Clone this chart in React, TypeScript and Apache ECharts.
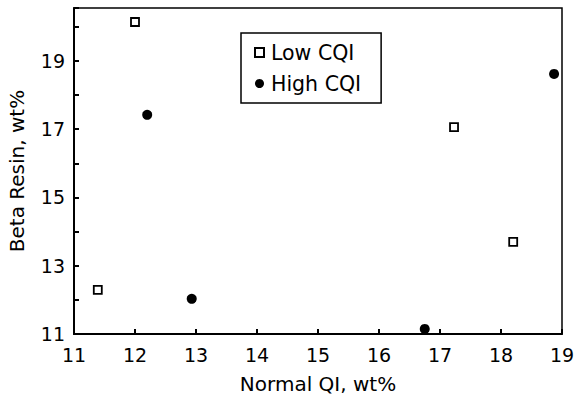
import React, { useEffect, useRef } from "react";
import * as echarts from "echarts";

const lowCqiX = [12.0, 11.39, 17.23, 18.2];
const lowCqiY = [20.14, 12.29, 17.06, 13.7];
const highCqiX = [12.2, 12.93, 16.75, 18.87];
const highCqiY = [17.42, 12.03, 11.15, 18.62];
const seriesNames = ["Low CQI", "High CQI"];
const xTitle = "Normal QI, wt%";
const yTitle = "Beta Resin, wt%";

const FONT = "DejaVu Sans, Liberation Sans, Arial, sans-serif";
const INK = "#000";

export default function App() {
  const ref = useRef<HTMLDivElement>(null);
  useEffect(() => {
    if (!ref.current) return;
    const chart = echarts.init(ref.current, null, { renderer: "svg" });
    const pts = (xs: number[], ys: number[]) => xs.map((x, i) => [x, ys[i]]);
    chart.setOption({
      animation: false,
      backgroundColor: "#fff",
      textStyle: { fontFamily: FONT, color: INK },
      grid: {
        left: 74,
        right: 13,
        top: 8,
        bottom: 66,
        containLabel: false,
        outerBoundsMode: "none",
        show: true,
        borderColor: INK,
        borderWidth: 1.5,
        backgroundColor: "transparent",
      },
      legend: {
        left: 241,
        top: 33,
        orient: "vertical",
        padding: [9, 20, 9, 13],
        itemGap: 10,
        itemWidth: 9,
        itemHeight: 9,
        borderColor: INK,
        borderWidth: 1.5,
        data: [
          { name: seriesNames[0], icon: "rect" },
          { name: seriesNames[1], icon: "circle" },
        ],
        textStyle: { fontSize: 20.5, lineHeight: 20, color: INK, fontFamily: FONT, padding: [0, 0, 0, 2] },
      },
      xAxis: {
        type: "value",
        min: 11,
        max: 19,
        interval: 1,
        name: xTitle,
        nameLocation: "middle",
        nameGap: 40,
        nameTextStyle: { fontSize: 20, color: INK, fontFamily: FONT },
        axisLine: { show: true, lineStyle: { color: INK, width: 2 } },
        axisTick: { show: true, inside: true, length: 5, lineStyle: { color: INK, width: 2 } },
        axisLabel: { fontSize: 19, color: INK, margin: 11, fontFamily: FONT },
        splitLine: { show: false },
      },
      yAxis: {
        type: "value",
        min: 11,
        max: 20.55,
        interval: 1,
        name: yTitle,
        nameLocation: "middle",
        nameGap: 47,
        nameTextStyle: { fontSize: 20, color: INK, fontFamily: FONT },
        axisLine: { show: true, lineStyle: { color: INK, width: 2 } },
        axisTick: { show: true, inside: true, length: 5, lineStyle: { color: INK, width: 2 } },
        axisLabel: {
          fontSize: 19,
          color: INK,
          margin: 9,
          fontFamily: FONT,
          formatter: (v: number) =>
            Number.isInteger(v) && v % 2 === 1 ? String(v) : "",
        },
        splitLine: { show: false },
      },
      series: [
        {
          name: seriesNames[0],
          type: "scatter",
          symbol: "rect",
          symbolSize: 8,
          itemStyle: { color: "#fff", borderColor: INK, borderWidth: 1.8, opacity: 1 },
          data: pts(lowCqiX, lowCqiY),
        },
        {
          name: seriesNames[1],
          type: "scatter",
          symbol: "circle",
          symbolSize: 10,
          itemStyle: { color: INK, opacity: 1 },
          data: pts(highCqiX, highCqiY),
        },
      ],
    });
    return () => chart.dispose();
  }, []);
  return (
    <div
      ref={ref}
      style={{ position: "absolute", left: 0, top: 0, width: 575, height: 400 }}
    />
  );
}
